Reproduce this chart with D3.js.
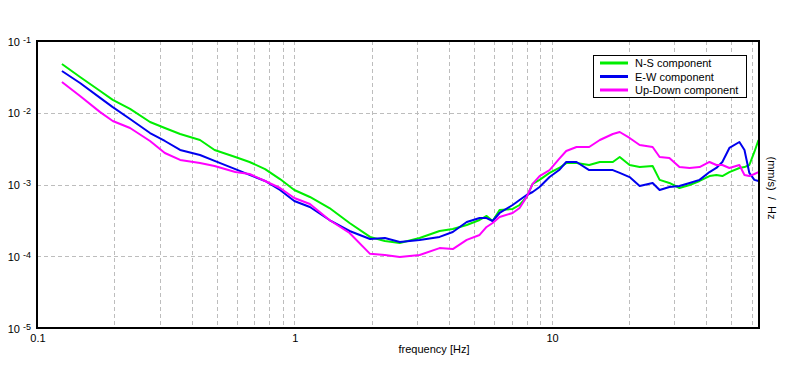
<!DOCTYPE html>
<html lang="en">
<head>
<meta charset="UTF-8">
<title>Spectrum of ground motion</title>
<script src="https://d3js.org/d3.v7.min.js"></script>
<style>
  body { margin: 0; background: #fff; }
  svg { display: block; font-family: "Liberation Sans", Arial, sans-serif; }
  text { font-size: 11px; fill: #000; }
  .grid line { stroke: #bdbdbd; stroke-width: 1; stroke-dasharray: 4,3; shape-rendering: crispEdges; }
  .curve { fill: none; stroke-width: 2; stroke-linejoin: round; }
</style>
</head>
<body>
<svg width="796" height="370"></svg>
<script>
// frequency [Hz], shared by the three components
const freq = [0.125, 0.147, 0.176, 0.197, 0.23, 0.275, 0.314, 0.36, 0.43, 0.49,
  0.59, 0.67, 0.77, 0.88, 1.0, 1.15, 1.37, 1.64, 1.97, 2.25,
  2.57, 3.07, 3.67, 4.13, 4.68, 5.25, 5.59, 5.9, 6.28, 7.06,
  7.51, 8.0, 8.44, 8.98, 9.82, 10.7, 11.4, 12.5, 14.0, 15.4,
  17.3, 18.4, 20.1, 22.0, 24.7, 26.3, 28.7, 31.4, 34.4, 37.6,
  41.1, 43.7, 46.1, 49.1, 53.7, 56.2, 58.7, 61.4, 63.7];

const nsComp = [0.0478, 0.0315, 0.0201, 0.0151, 0.0113, 0.00743, 0.00613, 0.00506, 0.00417, 0.00303,
  0.00242, 0.00206, 0.00164, 0.00119, 0.000838, 0.000670, 0.000470, 0.000291, 0.000186, 0.000163,
  0.000153, 0.000180, 0.000225, 0.000240, 0.000273, 0.000320, 0.000364, 0.000310, 0.000441, 0.000456,
  0.000518, 0.000670, 0.00102, 0.00116, 0.00145, 0.00170, 0.00199, 0.00199, 0.00187, 0.00206,
  0.00206, 0.00242, 0.00187, 0.00175, 0.00181, 0.00116, 0.00105, 0.000894, 0.000984, 0.00112,
  0.00131, 0.00136, 0.00131, 0.00149, 0.00170, 0.00175, 0.00187, 0.00284, 0.00417];

const ewComp = [0.0382, 0.0260, 0.0161, 0.0120, 0.00818, 0.00522, 0.00404, 0.00303, 0.00258, 0.00213,
  0.00164, 0.00136, 0.00112, 0.000838, 0.000589, 0.000486, 0.000320, 0.000225, 0.000174, 0.000180,
  0.000158, 0.000169, 0.000186, 0.000218, 0.000300, 0.000341, 0.000341, 0.000310, 0.000401, 0.000518,
  0.000608, 0.000714, 0.000786, 0.000923, 0.00127, 0.00159, 0.00206, 0.00206, 0.00159, 0.00159,
  0.00159, 0.00145, 0.00127, 0.000953, 0.00105, 0.000838, 0.000923, 0.000953, 0.00105, 0.00116,
  0.00149, 0.00170, 0.00206, 0.00323, 0.00391, 0.00303, 0.00145, 0.00116, 0.00112];

const udComp = [0.0268, 0.0171, 0.0102, 0.00767, 0.00613, 0.00404, 0.00275, 0.00220, 0.00199, 0.00181,
  0.00149, 0.00140, 0.00112, 0.000894, 0.000649, 0.000535, 0.000320, 0.000211, 0.000108, 0.000104,
  0.0000976, 0.000104, 0.000130, 0.000126, 0.000169, 0.000198, 0.000256, 0.000291, 0.000353, 0.000401,
  0.000470, 0.000670, 0.00102, 0.00131, 0.00159, 0.00227, 0.00293, 0.00333, 0.00333, 0.00417,
  0.00506, 0.00539, 0.00445, 0.00355, 0.00333, 0.00242, 0.00234, 0.00175, 0.00170, 0.00175,
  0.00206, 0.00187, 0.00187, 0.00170, 0.00187, 0.00136, 0.00131, 0.00140, 0.00149];

const seriesNames = ["N-S component", "E-W component", "Up-Down component"];
const seriesColors = ["#00ee00", "#0000ee", "#ff00ff"];
const xTicks = [0.1, 1, 10];
const xTickLabels = ["0.1", "1", "10"];
const yTicks = [1e-1, 1e-2, 1e-3, 1e-4, 1e-5];
const yTickExps = ["-1", "-2", "-3", "-4", "-5"];

const svg = d3.select("svg"),
      margin = {top: 41, right: 37, bottom: 42, left: 37},
      width = +svg.attr("width") - margin.left - margin.right,
      height = +svg.attr("height") - margin.top - margin.bottom,
      chart = svg.append("g").attr("transform", `translate(${margin.left},${margin.top})`);

const x = d3.scaleLog().domain([0.1, 64]).range([0, width]);
const y = d3.scaleLog().domain([1e-5, 1e-1]).range([height, 0]);

// dashed grid
const grid = chart.append("g").attr("class", "grid");
grid.selectAll(".gx")
  .data(x.ticks())
  .enter().append("line")
    .attr("x1", d => Math.round(x(d)) + 0.5)
    .attr("x2", d => Math.round(x(d)) + 0.5)
    .attr("y1", 0)
    .attr("y2", height);
grid.selectAll(".gy")
  .data(yTicks)
  .enter().append("line")
    .attr("x1", 0)
    .attr("x2", width)
    .attr("y1", d => Math.round(y(d)) + 0.5)
    .attr("y2", d => Math.round(y(d)) + 0.5);

// curves
const data = [nsComp, ewComp, udComp];
const line = d3.line()
  .x((d, i) => x(freq[i]))
  .y(d => y(d));

chart.selectAll(".curve")
  .data(data)
  .enter().append("path")
    .attr("class", "curve")
    .attr("stroke", (d, i) => seriesColors[i])
    .attr("d", line);

// frame
chart.append("rect")
  .attr("x", 0)
  .attr("y", 0)
  .attr("width", width)
  .attr("height", height)
  .attr("fill", "none")
  .attr("stroke", "#000")
  .attr("stroke-width", 2);

// y tick labels: 10^n
const yLab = svg.append("g").selectAll("text")
  .data(yTicks)
  .enter().append("text")
    .attr("x", 31)
    .attr("y", d => margin.top + y(d) + 4.5)
    .attr("text-anchor", "end");
yLab.append("tspan").text("10 ");
yLab.append("tspan")
  .attr("dy", -3)
  .style("font-size", "9px")
  .text((d, i) => yTickExps[i]);

// x tick labels
svg.append("g").selectAll("text")
  .data(xTicks)
  .enter().append("text")
    .attr("x", d => margin.left + x(d) + 1)
    .attr("y", 342)
    .attr("text-anchor", "middle")
    .text((d, i) => xTickLabels[i]);

svg.append("text")
  .attr("x", 434)
  .attr("y", 353)
  .attr("text-anchor", "middle")
  .text("frequency [Hz]");

svg.append("text")
  .attr("transform", "translate(768,188) rotate(90)")
  .attr("text-anchor", "middle")
  .style("white-space", "pre")
  .text("(mm/s)  /  Hz");

// legend
const legend = svg.append("g").attr("transform", "translate(593.5,55.5)");
legend.append("rect")
  .attr("width", 153)
  .attr("height", 42)
  .attr("fill", "#fff")
  .attr("stroke", "#000")
  .attr("stroke-width", 1);
seriesNames.forEach((name, i) => {
  const ry = 7.5 + i * 13.5;
  legend.append("line")
    .attr("x1", 6.5).attr("x2", 34.5)
    .attr("y1", ry).attr("y2", ry)
    .attr("stroke", seriesColors[i])
    .attr("stroke-width", 3);
  legend.append("text")
    .attr("x", 41.5)
    .attr("y", ry + 4)
    .text(name);
});
</script>
</body>
</html>
